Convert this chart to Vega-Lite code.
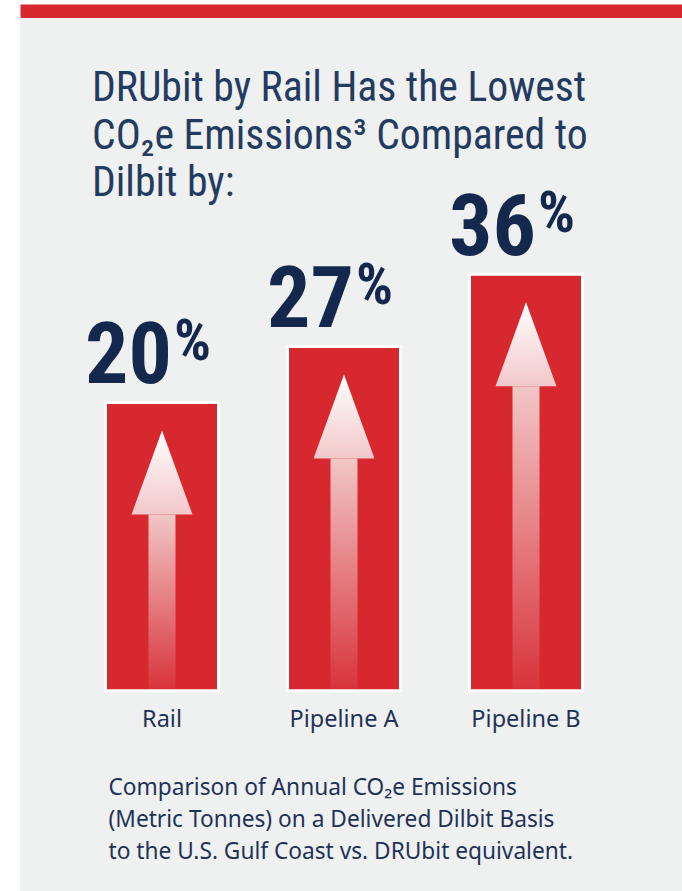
{
  "$schema": "https://vega.github.io/schema/vega-lite/v6.json",
  "autosize": {"type": "none"},
  "width": 662,
  "height": 874,
  "padding": {"left": 20, "top": 17, "right": 0, "bottom": 0},
  "background": "#ffffff",
  "config": {"view": {"fill": "#eff0f0", "stroke": null}},
  "title": {
    "text": ["DRUbit by Rail Has the Lowest", "CO₂e Emissions³ Compared to", "Dilbit by:"],
    "orient": "top",
    "anchor": "start",
    "frame": "group",
    "dx": 72,
    "offset": -194,
    "font": "Roboto Condensed, Roboto",
    "fontSize": 41.7,
    "fontWeight": "normal",
    "color": "#243b61",
    "lineHeight": 47.3
  },
  "data": {
    "values": [
      {"mode": "Rail", "pct": 20},
      {"mode": "Pipeline A", "pct": 27},
      {"mode": "Pipeline B", "pct": 36}
    ]
  },
  "resolve": {"axis": {"x": "independent"}},
  "layer": [
    {
      "mark": {"type": "bar", "width": 113, "fill": "#d72830", "stroke": "#ffffff", "strokeWidth": 3},
      "encoding": {
        "x": {
          "field": "mode", "type": "nominal", "sort": null,
          "scale": {"paddingInner": 0, "paddingOuter": 0.3187, "align": 0.4397},
          "axis": {"orient": "top", "domain": true, "domainColor": "#d72830", "domainWidth": 13.5, "domainCap": "butt", "offset": 6.25, "ticks": false, "labels": false, "grid": false, "title": null}
        },
        "y": {"field": "pct", "type": "quantitative", "scale": {"domain": [-41.04, 68.15], "nice": false, "zero": false}, "axis": null},
        "y2": {"datum": -16.03}
      }
    },
    {
      "mark": {
        "type": "bar", "width": 27, "yOffset": 112, "y2Offset": -2,
        "fill": {"gradient": "linear", "x1": 0, "y1": 0, "x2": 0, "y2": 1, "stops": [{"offset": 0, "color": "#f2c6c7"}, {"offset": 1, "color": "#d8343b"}]}
      },
      "encoding": {
        "x": {"field": "mode", "type": "nominal", "sort": null, "axis": null},
        "y": {"field": "pct", "type": "quantitative"},
        "y2": {"datum": -16.03}
      }
    },
    {
      "mark": {
        "type": "point", "shape": "M0,-1L0.726,1L-0.726,1Z", "size": 7056, "filled": true, "opacity": 1, "strokeWidth": 0, "yOffset": 70,
        "fill": {"gradient": "linear", "x1": 0, "y1": 0, "x2": 0, "y2": 1, "stops": [{"offset": 0, "color": "#ffffff"}, {"offset": 1, "color": "#f2c8c9"}]}
      },
      "encoding": {
        "x": {"field": "mode", "type": "nominal", "sort": null, "axis": null},
        "y": {"field": "pct", "type": "quantitative"}
      }
    },
    {
      "mark": {"type": "text", "align": "right", "baseline": "alphabetic", "dx": 10, "dy": -19, "font": "Roboto Condensed, Roboto", "fontWeight": "bold", "fontSize": 86, "fill": "#14284d"},
      "encoding": {
        "x": {"field": "mode", "type": "nominal", "sort": null, "axis": null},
        "y": {"field": "pct", "type": "quantitative"},
        "text": {"field": "pct", "type": "quantitative", "format": "d"}
      }
    },
    {
      "mark": {"type": "text", "text": "%", "align": "left", "baseline": "top", "dx": 12, "dy": -88, "font": "Roboto Condensed, Roboto", "fontWeight": "bold", "fontSize": 58, "fill": "#14284d"},
      "encoding": {
        "x": {"field": "mode", "type": "nominal", "sort": null, "axis": null},
        "y": {"field": "pct", "type": "quantitative"}
      }
    },
    {
      "mark": {"type": "text", "align": "center", "baseline": "alphabetic", "dy": 36, "font": "Noto Sans", "fontSize": 23.5, "fill": "#1f3358"},
      "encoding": {
        "x": {
          "field": "mode", "type": "nominal", "sort": null,
          "axis": {
            "orient": "bottom", "domain": false, "ticks": false, "labels": false, "grid": false,
            "title": ["Comparison of Annual CO₂e Emissions", "(Metric Tonnes) on a Delivered Dilbit Basis", "to the U.S. Gulf Coast vs. DRUbit equivalent."],
            "titleX": 88, "titleY": -96.7, "titleAlign": "left", "titleBaseline": "alphabetic", "titleAngle": 0,
            "titleFont": "Noto Sans", "titleFontSize": 22.7, "titleFontWeight": "normal", "titleColor": "#1f3358", "titleLineHeight": 32
          }
        },
        "y": {"datum": -16.03},
        "text": {"field": "mode", "type": "nominal"}
      }
    }
  ]
}
